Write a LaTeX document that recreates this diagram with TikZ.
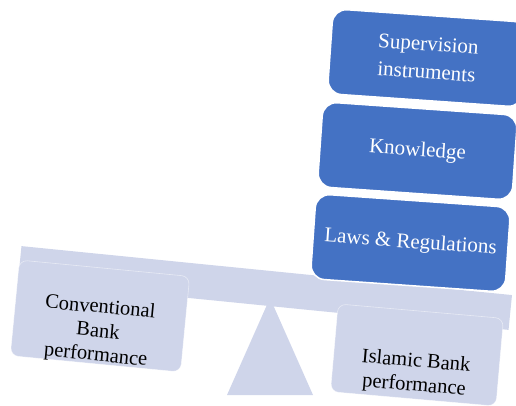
\documentclass[tikz,border=0pt]{standalone}
\usepackage{fontspec}
\setmainfont{Liberation Serif}
\definecolor{beamfill}{RGB}{207,213,234}
\definecolor{weightblue}{RGB}{68,114,196}
\begin{document}
\begin{tikzpicture}[x=1pt,y=-1pt,
  panbox/.style={fill=beamfill, draw=white, draw opacity=0.5, line width=0.6pt,
                 rounded corners=8pt, inner sep=0pt},
  weight/.style={fill=weightblue, draw=white, line width=1.5pt, rounded corners=14pt,
                 minimum width=195pt, minimum height=85pt, inner sep=0pt},
  darklabel/.style={font=\fontsize{20.5}{24}\selectfont, align=center, text=black, inner sep=0pt},
  lightlabel/.style={font=\fontsize{21}{28}\selectfont, align=center, text=white}]
\useasboundingbox (0,0) rectangle (516,406);
\clip (0,0) rectangle (516,406);

% fulcrum
\fill[beamfill] (270,298) -- (227,395) -- (313,395) -- cycle;

% tilted beam
\node[fill=beamfill, minimum width=493pt, minimum height=35pt, inner sep=0pt,
      rotate=-5.7] (beam) at (265,288) {};

% the two pans
\node[panbox, minimum width=171pt, minimum height=96pt, rotate=-5.5] (convbox) at (100,316) {};
\node[darklabel, rotate=-5.5] (convtext) at (98,332) {Conventional\\Bank\\performance};

\node[panbox, minimum width=166pt, minimum height=88pt, rotate=-5] (islbox) at (417,355) {};
\node[darklabel, rotate=-5] (isltext) at (415,374) {Islamic Bank\\performance};

% stacked weights on the right pan
\node[weight, lightlabel, rotate=-4] (laws) at (410.5,243) {Laws \& Regulations};
\node[weight, lightlabel, rotate=-4] (knowledge) at (417.5,151) {Knowledge};
\node[weight, lightlabel, rotate=-4] (supervision) at (427.5,58) {Supervision\\instruments};
\end{tikzpicture}
\end{document}
